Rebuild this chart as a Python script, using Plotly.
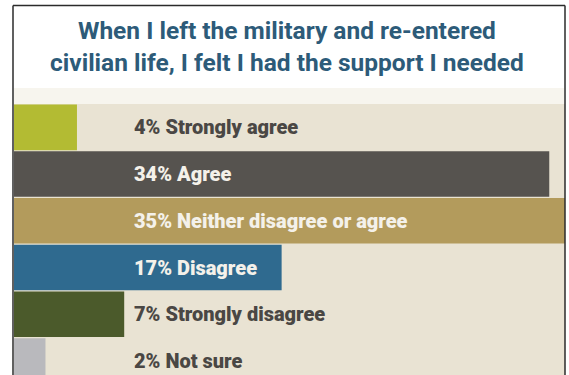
import plotly.graph_objects as go

# ---- data ----
categories = ["Strongly agree", "Agree", "Neither disagree or agree",
              "Disagree", "Strongly disagree", "Not sure"]
percents = [4, 34, 35, 17, 7, 2]
bar_colors = ["#B3BB33", "#56534F", "#B39B5C", "#2F6A8F", "#4B5A2B", "#B9B9BD"]
label_colors = ["#4A4744", "#F4F1EA", "#F4F1EA", "#F4F1EA", "#4A4744", "#4A4744"]
title_lines = ["When I left the military and re-entered",
               "civilian life, I felt I had the support I needed"]

FONT = "Roboto, sans-serif"

W, H = 569, 375
ml, mr, mt, mb = 14, 4, 104, 0
plot_w = W - ml - mr
plot_h = H - mt - mb

fig = go.Figure()
fig.add_trace(go.Bar(
    x=percents, y=categories, orientation="h",
    marker=dict(color=bar_colors, line=dict(width=0)),
    hoverinfo="skip", showlegend=False,
))

for cat, p, c in zip(categories, percents, label_colors):
    fig.add_annotation(
        x=(132 - ml) / plot_w, xref="paper", xanchor="left",
        y=cat, yref="y", yanchor="middle",
        text=f"{p}% {cat}", showarrow=False,
        font=dict(family=FONT, size=20, color=c, weight=900),
    )

fig.add_annotation(
    x=(287 - ml) / plot_w, xref="paper", xanchor="center",
    y=1 + (104 - 47) / plot_h, yref="paper", yanchor="middle",
    text="<br>".join(title_lines), showarrow=False,
    font=dict(family=FONT, size=24.5, color="#2D5B79", weight=700),
)

# frame lines (left, top, right)
def px_x(p):
    return (p - ml) / plot_w

def px_y(p):
    return 1 + (mt - p) / plot_h

frame = dict(color="#2B2B2B", width=1.5)
fig.add_shape(type="line", xref="paper", yref="paper", x0=px_x(13), x1=px_x(13),
              y0=px_y(5.5), y1=px_y(380), line=frame, layer="above")
fig.add_shape(type="line", xref="paper", yref="paper", x0=px_x(13), x1=px_x(565),
              y0=px_y(5.5), y1=px_y(5.5), line=frame, layer="above")
fig.add_shape(type="line", xref="paper", yref="paper", x0=px_x(565), x1=px_x(565),
              y0=px_y(5.5), y1=px_y(380), line=frame, layer="above")
# faint tint at bottom of header
fig.add_shape(type="rect", xref="paper", yref="paper", x0=px_x(14), x1=px_x(564),
              y0=px_y(104), y1=px_y(88), fillcolor="#F7F5EE", line=dict(width=0),
              layer="below")

fig.update_layout(
    width=W, height=H,
    margin=dict(l=ml, r=mr, t=mt, b=mb, pad=0),
    paper_bgcolor="#FFFFFF", plot_bgcolor="#E9E3D3",
    bargap=0.025,
    xaxis=dict(range=[0, 35], visible=False, fixedrange=True),
    yaxis=dict(type="category", range=[5.3, -0.5], visible=False, fixedrange=True),
)

fig.write_html("out.html", config={"displayModeBar": False})
